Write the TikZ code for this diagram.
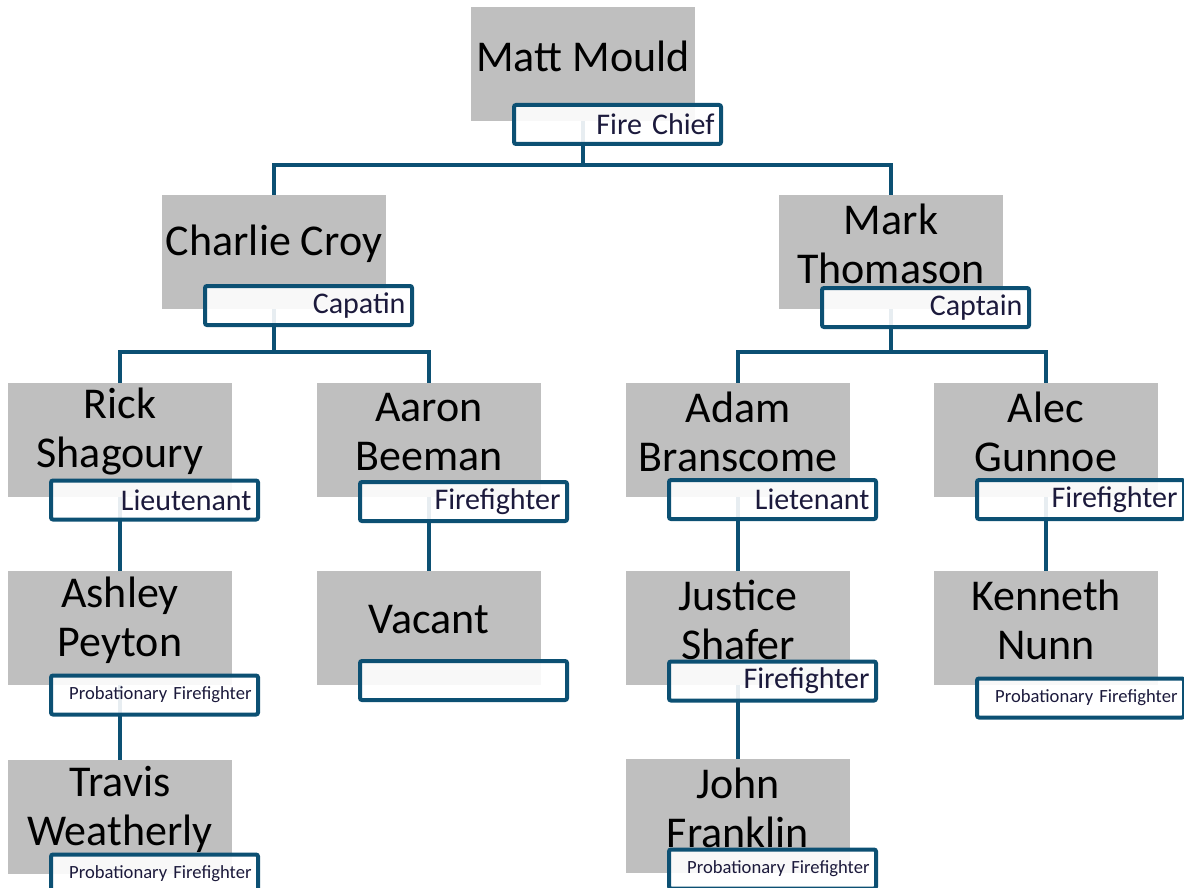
\documentclass[tikz,border=0pt]{standalone}
\usepackage{fontspec}
\setmainfont{Carlito}
\usetikzlibrary{calc}

\definecolor{boxgray}{HTML}{BFBFBF}
\definecolor{rolebd}{HTML}{0C5073}
\definecolor{roletext}{HTML}{1C1A3C}

\tikzset{
  person/.style={fill=boxgray, minimum width=112pt, minimum height=57pt, inner sep=0pt},
  who/.style={font=\fontsize{22}{24.5}\selectfont, align=center, inner sep=0pt},
  role/.style={draw=rolebd, line width=2pt, rounded corners=1pt, fill=white, fill opacity=0.9,
    text opacity=1, text=roletext, minimum width=103.5pt, minimum height=19.5pt,
    text width=97pt, align=right, inner xsep=3.25pt, inner ysep=0pt,
    font=\fontsize{15}{18}\selectfont},
  probie/.style={role, font=\fontsize{9.3}{11}\selectfont},
  link/.style={draw=rolebd, line width=2pt}
}

\begin{document}
\begin{tikzpicture}[x=0.5pt, y=-0.5pt]
  \useasboundingbox (0,0) rectangle (1184,888);
  \coordinate (bus1) at (0,165);
  \coordinate (bus2) at (0,352);

  % gray name boxes
  \node [person] (mm) at (583,64) {};
  \node [person] (cc) at (274,252) {};
  \node [person] (mt) at (891,252) {};
  \node [person] (rs) at (120,440) {};
  \node [person] (ab) at (429,440) {};
  \node [person] (abr) at (738,440) {};
  \node [person] (ag) at (1046,440) {};
  \node [person] (ap) at (120,628) {};
  \node [person] (vc) at (429,628) {};
  \node [person] (js) at (738,628) {};
  \node [person] (kn) at (1046,628) {};
  \node [person] (tw) at (120,817) {};
  \node [person] (jf) at (738,816) {};

  \node [who] (mm-n) at ([yshift=4pt]mm.center) {Matt Mould};
  \node [who] (cc-n) at ([yshift=4pt]cc.center) {Charlie Croy};
  \node [who] (mt-n) at ([yshift=4pt]mt.center) {Mark\\Thomason};
  \node [who] (rs-n) at ([yshift=4pt]rs.center) {Rick\\Shagoury};
  \node [who] (ab-n) at ([yshift=4pt]ab.center) {Aaron\\Beeman};
  \node [who] (abr-n) at ([yshift=4pt]abr.center) {Adam\\Branscome};
  \node [who] (ag-n) at ([yshift=4pt]ag.center) {Alec\\Gunnoe};
  \node [who] (ap-n) at ([yshift=4pt]ap.center) {Ashley\\Peyton};
  \node [who] (vc-n) at ([yshift=4pt]vc.center) {Vacant};
  \node [who] (js-n) at ([yshift=4pt]js.center) {Justice\\Shafer};
  \node [who] (kn-n) at ([yshift=4pt]kn.center) {Kenneth\\Nunn};
  \node [who] (tw-n) at ([yshift=4pt]tw.center) {Travis\\Weatherly};
  \node [who] (jf-n) at ([yshift=4pt]jf.center) {John\\Franklin};

  % connectors
  \draw [link] (mm.south) -- (mm.south |- bus1);
  \draw [link] (cc.north) |- (mm.south |- bus1) -| (mt.north);
  \draw [link] (cc.south) -- (cc.south |- bus2);
  \draw [link] (rs.north) |- (cc.south |- bus2) -| (ab.north);
  \draw [link] (mt.south) -- (mt.south |- bus2);
  \draw [link] (abr.north) |- (mt.south |- bus2) -| (ag.north);
  \draw [link] (rs.south) -- (ap.north);
  \draw [link] (ap.south) -- (tw.north);
  \draw [link] (ab.south) -- (vc.north);
  \draw [link] (abr.south) -- (js.north);
  \draw [link] (js.south) -- (jf.north);
  \draw [link] (ag.south) -- (kn.north);

  % title boxes
  \node [role] (mm-r) at (617.5,124.5) {Fire Chief};
  \node [role] (cc-r) at (308.5,305.5) {Capatin};
  \node [role] (mt-r) at (925.5,307.5) {Captain};
  \node [role] (rs-r) at (154.5,500) {Lieutenant};
  \node [role] (ab-r) at (463.5,501.5) {Firefighter};
  \node [role] (abr-r) at (772.5,499.5) {Lietenant};
  \node [role] (ag-r) at (1080.5,499.5) {Firefighter};
  \node [probie] (ap-r) at (154.5,695) {Probationary Firefighter};
  \node [role] (vc-r) at (463.5,680.5) {};
  \node [role] (js-r) at (772.5,681) {Firefighter};
  \node [probie] (kn-r) at (1080.5,698) {Probationary Firefighter};
  \node [probie] (tw-r) at (154.5,874) {Probationary Firefighter};
  \node [probie] (jf-r) at (772.5,869) {Probationary Firefighter};
\end{tikzpicture}
\end{document}
